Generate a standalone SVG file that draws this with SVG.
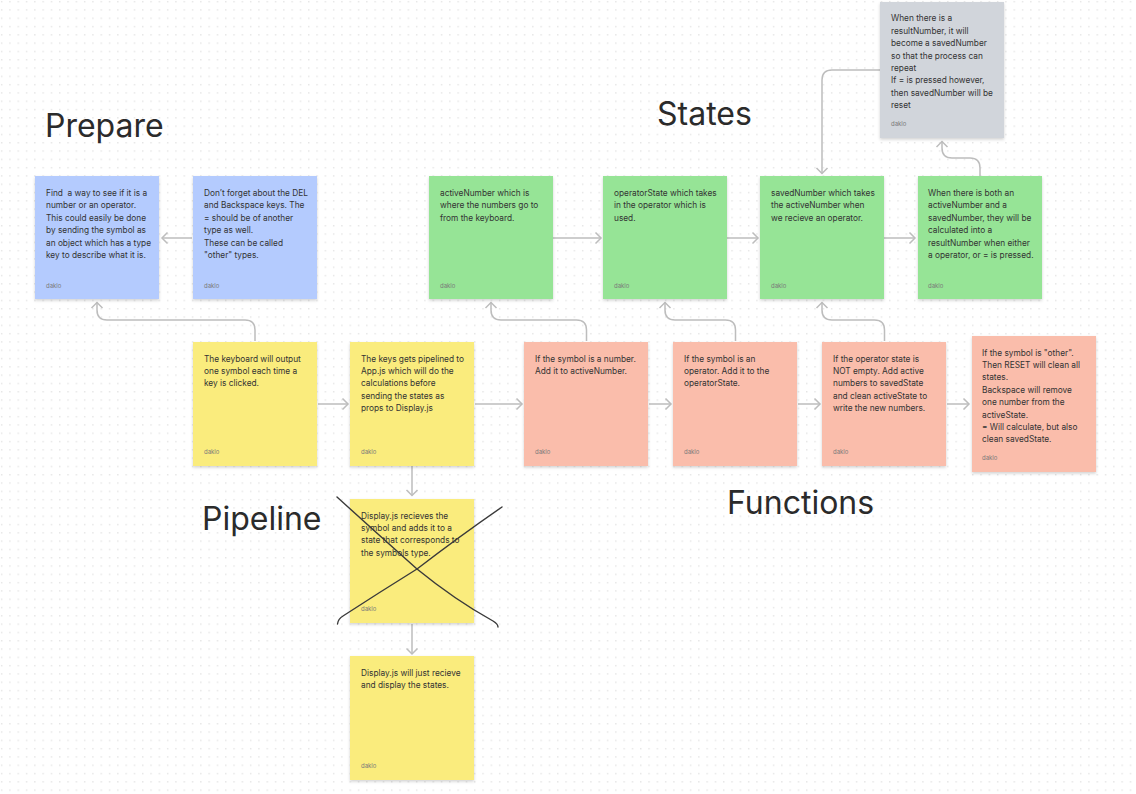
<svg xmlns="http://www.w3.org/2000/svg" width="1136" height="794" viewBox="0 0 1136 794">
<defs>
<pattern id="dots" x="0" y="0" width="8.3" height="8.3" patternUnits="userSpaceOnUse">
<rect x="1.2" y="1.2" width="1" height="1" fill="#c9c9c9"/>
</pattern>
<filter id="sh" x="-10%" y="-10%" width="120%" height="125%">
<feDropShadow dx="0" dy="1.5" stdDeviation="1.5" flood-color="#000" flood-opacity="0.18"/>
</filter>
<marker id="ah" viewBox="-7 -7 9 14" markerWidth="9" markerHeight="14" refX="0" refY="0" orient="auto" markerUnits="userSpaceOnUse">
<path d="M-5.5,-5.5 L0,0 L-5.5,5.5" fill="none" stroke="#bdbdbd" stroke-width="1.5"/>
</marker>
</defs>
<style>
.t{font-family:Inter,"Noto Sans",sans-serif;font-size:8.3px;fill:#333333}
.a{font-family:Inter,"Noto Sans",sans-serif;font-size:6px;fill:#7a7a7a}
.h{font-family:Inter,"Noto Sans",sans-serif;font-size:32px;fill:#2b2b2b}
.c{fill:none;stroke:#bdbdbd;stroke-width:1.5;marker-end:url(#ah)}
.blue{fill:#b4cbfe;filter:url(#sh)}
.green{fill:#96e496;filter:url(#sh)}
.yellow{fill:#faec7d;filter:url(#sh)}
.red{fill:#fabdab;filter:url(#sh)}
.grey{fill:#d1d5db;filter:url(#sh)}
</style>
<rect width="1136" height="794" fill="#ffffff"/>
<rect width="1136" height="794" fill="url(#dots)"/>

<g id="headings">
<text class="h" x="45" y="137">Prepare</text>
<text class="h" x="657" y="125">States</text>
<text class="h" x="202" y="530">Pipeline</text>
<text class="h" x="727" y="514">Functions</text>
</g>

<g id="connectors">
<path class="c" d="M192,238 L162,238"/>
<path class="c" d="M255,341 L255,330 Q255,320 245,320 L107,320 Q97,320 97,310 L97,302.5"/>
<path class="c" d="M318,404 L348,404"/>
<path class="c" d="M475,404 L522,404"/>
<path class="c" d="M412,466 L412,495.5"/>
<path class="c" d="M412,624 L412,654"/>
<path class="c" d="M649,404 L671,404"/>
<path class="c" d="M798,404 L820,404"/>
<path class="c" d="M947,404 L969,404"/>
<path class="c" d="M586.5,341 L586.5,330 Q586.5,320 576.5,320 L501,320 Q491,320 491,310 L491,302.5"/>
<path class="c" d="M735.5,341 L735.5,330 Q735.5,320 725.5,320 L675,320 Q665,320 665,310 L665,302.5"/>
<path class="c" d="M884.5,341 L884.5,330 Q884.5,320 874.5,320 L832,320 Q822,320 822,310 L822,302.5"/>
<path class="c" d="M553,238 L601,238"/>
<path class="c" d="M727,238 L758,238"/>
<path class="c" d="M884,238 L915,238"/>
<path class="c" d="M980,176 L980,168 Q980,158 970,158 L952,158 Q942,158 942,148 L942,141.5"/>
<path class="c" d="M880,70 L832,70 Q822,70 822,80 L822,173.5"/>
</g>

<g id="n-blue1">
<rect class="blue" x="35" y="176" width="124" height="123"/>
<text class="t" x="46" y="196">Find&#160; a way to see if it is a</text>
<text class="t" x="46" y="208.4">number or an operator.</text>
<text class="t" x="46" y="220.8">This could easily be done</text>
<text class="t" x="46" y="233.2">by sending the symbol as</text>
<text class="t" x="46" y="245.6">an object which has a type</text>
<text class="t" x="46" y="258">key to describe what it is.</text>
<text class="a" x="46" y="287.5">daklo</text>
</g>
<g id="n-blue2">
<rect class="blue" x="193" y="176" width="124" height="123"/>
<text class="t" x="204" y="196">Don’t forget about the DEL</text>
<text class="t" x="204" y="208.4">and Backspace keys. The</text>
<text class="t" x="204" y="220.8">= should be of another</text>
<text class="t" x="204" y="233.2">type as well.</text>
<text class="t" x="204" y="245.6">These can be called</text>
<text class="t" x="204" y="258">"other" types.</text>
<text class="a" x="204" y="287.5">daklo</text>
</g>

<g id="n-green1">
<rect class="green" x="429" y="176" width="124" height="123"/>
<text class="t" x="440" y="196">activeNumber which is</text>
<text class="t" x="440" y="208.4">where the numbers go to</text>
<text class="t" x="440" y="220.8">from the keyboard.</text>
<text class="a" x="440" y="287.5">daklo</text>
</g>
<g id="n-green2">
<rect class="green" x="603" y="176" width="124" height="123"/>
<text class="t" x="614" y="196">operatorState which takes</text>
<text class="t" x="614" y="208.4">in the operator which is</text>
<text class="t" x="614" y="220.8">used.</text>
<text class="a" x="614" y="287.5">daklo</text>
</g>
<g id="n-green3">
<rect class="green" x="760" y="176" width="124" height="123"/>
<text class="t" x="771" y="196">savedNumber which takes</text>
<text class="t" x="771" y="208.4">the activeNumber when</text>
<text class="t" x="771" y="220.8">we recieve an operator.</text>
<text class="a" x="771" y="287.5">daklo</text>
</g>
<g id="n-green4">
<rect class="green" x="918" y="176" width="124" height="123"/>
<text class="t" x="928" y="196">When there is both an</text>
<text class="t" x="928" y="208.4">activeNumber and a</text>
<text class="t" x="928" y="220.8">savedNumber, they will be</text>
<text class="t" x="928" y="233.2">calculated into a</text>
<text class="t" x="928" y="245.6">resultNumber when either</text>
<text class="t" x="928" y="258">a operator, or = is pressed.</text>
<text class="a" x="928" y="287.5">daklo</text>
</g>
<g id="n-grey">
<rect class="grey" x="880" y="2" width="124" height="136"/>
<text class="t" x="891" y="21.3">When there is a</text>
<text class="t" x="891" y="33.7">resultNumber, it will</text>
<text class="t" x="891" y="46.1">become a savedNumber</text>
<text class="t" x="891" y="58.5">so that the process can</text>
<text class="t" x="891" y="70.9">repeat</text>
<text class="t" x="891" y="83.3">If = is pressed however,</text>
<text class="t" x="891" y="95.7">then savedNumber will be</text>
<text class="t" x="891" y="108.1">reset</text>
<text class="a" x="891" y="126">daklo</text>
</g>

<g id="n-yellow1">
<rect class="yellow" x="193" y="342" width="124" height="124"/>
<text class="t" x="204" y="361.5">The keyboard will output</text>
<text class="t" x="204" y="373.9">one symbol each time a</text>
<text class="t" x="204" y="386.3">key is clicked.</text>
<text class="a" x="204" y="453.5">daklo</text>
</g>
<g id="n-yellow2">
<rect class="yellow" x="350" y="342" width="124" height="124"/>
<text class="t" x="361" y="361.5">The keys gets pipelined to</text>
<text class="t" x="361" y="373.9">App.js which will do the</text>
<text class="t" x="361" y="386.3">calculations before</text>
<text class="t" x="361" y="398.7">sending the states as</text>
<text class="t" x="361" y="411.1">props to Display.js</text>
<text class="a" x="361" y="453.5">daklo</text>
</g>
<g id="n-yellow3">
<rect class="yellow" x="350" y="499" width="124" height="124"/>
<text class="t" x="361" y="518.5">Display.js recieves the</text>
<text class="t" x="361" y="530.9">symbol and adds it to a</text>
<text class="t" x="361" y="543.3">state that corresponds to</text>
<text class="t" x="361" y="555.7">the symbols type.</text>
<text class="a" x="361" y="610.5">daklo</text>
<path d="M337,497 Q380,536 417,569 Q455,600 493,621 Q498,624 498,627" fill="none" stroke="#3a3a3a" stroke-width="1.4" stroke-linecap="round"/>
<path d="M337.5,624 Q338,619 343,616 Q380,592 417,569 Q460,536 502,507" fill="none" stroke="#3a3a3a" stroke-width="1.4" stroke-linecap="round"/>
</g>
<g id="n-yellow4">
<rect class="yellow" x="350" y="656" width="124" height="124"/>
<text class="t" x="361" y="675.5">Display.js will just recieve</text>
<text class="t" x="361" y="687.9">and display the states.</text>
<text class="a" x="361" y="767.5">daklo</text>
</g>

<g id="n-red1">
<rect class="red" x="524" y="342" width="124" height="124"/>
<text class="t" x="535" y="361.5">If the symbol is a number.</text>
<text class="t" x="535" y="373.9">Add it to activeNumber.</text>
<text class="a" x="535" y="453.5">daklo</text>
</g>
<g id="n-red2">
<rect class="red" x="673" y="342" width="124" height="124"/>
<text class="t" x="684" y="361.5">If the symbol is an</text>
<text class="t" x="684" y="373.9">operator. Add it to the</text>
<text class="t" x="684" y="386.3">operatorState.</text>
<text class="a" x="684" y="453.5">daklo</text>
</g>
<g id="n-red3">
<rect class="red" x="822" y="342" width="124" height="124"/>
<text class="t" x="833" y="361.5">If the operator state is</text>
<text class="t" x="833" y="373.9">NOT empty. Add active</text>
<text class="t" x="833" y="386.3">numbers to savedState</text>
<text class="t" x="833" y="398.7">and clean activeState to</text>
<text class="t" x="833" y="411.1">write the new numbers.</text>
<text class="a" x="833" y="453.5">daklo</text>
</g>
<g id="n-red4">
<rect class="red" x="972" y="336" width="124" height="136"/>
<text class="t" x="982" y="355.5">If the symbol is "other".</text>
<text class="t" x="982" y="367.9">Then RESET will clean all</text>
<text class="t" x="982" y="380.3">states.</text>
<text class="t" x="982" y="392.7">Backspace will remove</text>
<text class="t" x="982" y="405.1">one number from the</text>
<text class="t" x="982" y="417.5">activeState.</text>
<text class="t" x="982" y="429.9">= Will calculate, but also</text>
<text class="t" x="982" y="442.3">clean savedState.</text>
<text class="a" x="982" y="459.5">daklo</text>
</g>
</svg>
